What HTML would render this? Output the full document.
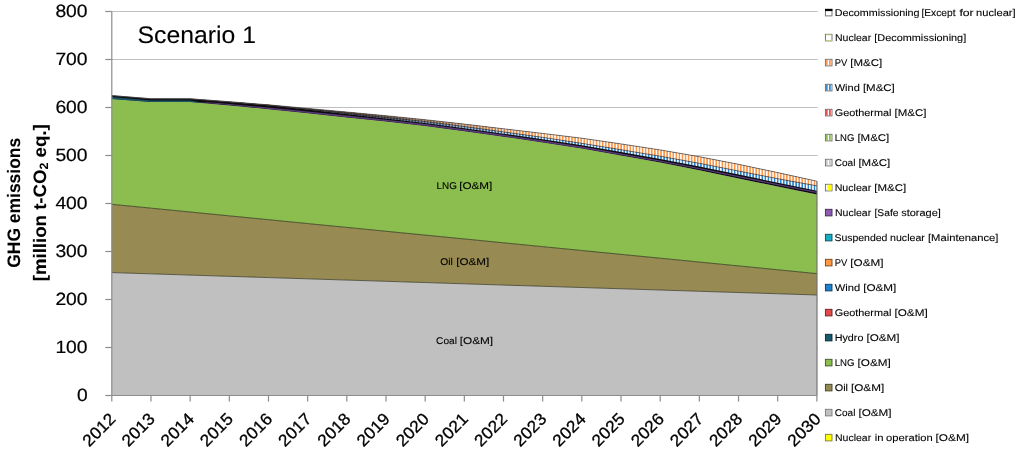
<!DOCTYPE html>
<html><head><meta charset="utf-8"><title>Scenario 1</title>
<style>html,body{margin:0;padding:0;background:#fff;}body{width:1024px;height:455px;position:relative;overflow:hidden;font-family:"Liberation Sans",sans-serif;}</style>
</head><body>
<svg width="1024" height="455" viewBox="0 0 1024 455" style="position:absolute;left:0;top:0;will-change:transform" font-family="Liberation Sans, sans-serif"><style>text{stroke:#000;stroke-width:0.1px;text-rendering:geometricPrecision}</style>
<defs>
<pattern id="pPV" x="1.75" width="3.07" height="8" patternUnits="userSpaceOnUse"><rect width="3.07" height="8" fill="#FC9648"/><rect x="0" width="1.45" height="8" fill="#fff"/></pattern>
<pattern id="pWind" x="1.75" width="3.07" height="8" patternUnits="userSpaceOnUse"><rect width="3.07" height="8" fill="#2E84CC"/><rect x="0" width="1.45" height="8" fill="#fff"/></pattern>
<linearGradient id="gDark" gradientUnits="userSpaceOnUse" x1="300" y1="0" x2="540" y2="0"><stop offset="0" stop-color="#0d0a10" stop-opacity="0.85"/><stop offset="0.25" stop-color="#0d0a10" stop-opacity="0.7"/><stop offset="0.55" stop-color="#0d0a10" stop-opacity="0.35"/><stop offset="1" stop-color="#0d0a10" stop-opacity="0"/></linearGradient>
</defs>
<line x1="111.8" y1="347.50" x2="817.6" y2="347.50" stroke="#BFBFBF" stroke-width="1"/>
<line x1="111.8" y1="299.50" x2="817.6" y2="299.50" stroke="#BFBFBF" stroke-width="1"/>
<line x1="111.8" y1="251.50" x2="817.6" y2="251.50" stroke="#BFBFBF" stroke-width="1"/>
<line x1="111.8" y1="203.50" x2="817.6" y2="203.50" stroke="#BFBFBF" stroke-width="1"/>
<line x1="111.8" y1="155.50" x2="817.6" y2="155.50" stroke="#BFBFBF" stroke-width="1"/>
<line x1="111.8" y1="107.50" x2="817.6" y2="107.50" stroke="#BFBFBF" stroke-width="1"/>
<line x1="111.8" y1="59.50" x2="817.6" y2="59.50" stroke="#BFBFBF" stroke-width="1"/>
<line x1="111.8" y1="11.50" x2="817.6" y2="11.50" stroke="#BFBFBF" stroke-width="1"/>
<polygon points="111.80,272.60 150.97,273.84 190.14,275.09 229.31,276.33 268.48,277.58 307.65,278.82 346.82,280.07 385.99,281.31 425.16,282.56 464.33,283.80 503.50,285.05 542.67,286.29 581.84,287.53 621.01,288.78 660.18,290.02 699.35,291.27 738.52,292.51 777.69,293.76 816.86,295.00 816.86,395.50 777.69,395.50 738.52,395.50 699.35,395.50 660.18,395.50 621.01,395.50 581.84,395.50 542.67,395.50 503.50,395.50 464.33,395.50 425.16,395.50 385.99,395.50 346.82,395.50 307.65,395.50 268.48,395.50 229.31,395.50 190.14,395.50 150.97,395.50 111.80,395.50" fill="#C0C0C0"/>
<polygon points="111.80,204.30 150.97,208.15 190.14,212.00 229.31,215.85 268.48,219.70 307.65,223.55 346.82,227.40 385.99,231.25 425.16,235.10 464.33,238.95 503.50,242.80 542.67,246.65 581.84,250.50 621.01,254.35 660.18,258.20 699.35,262.05 738.52,265.91 777.69,269.76 816.86,273.60 816.86,295.00 777.69,293.76 738.52,292.51 699.35,291.27 660.18,290.02 621.01,288.78 581.84,287.53 542.67,286.29 503.50,285.05 464.33,283.80 425.16,282.56 385.99,281.31 346.82,280.07 307.65,278.82 268.48,277.58 229.31,276.33 190.14,275.09 150.97,273.84 111.80,272.60" fill="#978A53"/>
<polygon points="111.80,99.00 150.97,101.90 190.14,101.90 229.31,105.40 268.48,109.20 307.65,113.30 346.82,117.50 385.99,121.60 425.16,126.00 464.33,131.20 503.50,136.70 542.67,142.50 581.84,148.60 621.01,155.40 660.18,162.50 699.35,170.20 738.52,178.40 777.69,186.60 816.86,194.40 816.86,273.60 777.69,269.76 738.52,265.91 699.35,262.05 660.18,258.20 621.01,254.35 581.84,250.50 542.67,246.65 503.50,242.80 464.33,238.95 425.16,235.10 385.99,231.25 346.82,227.40 307.65,223.55 268.48,219.70 229.31,215.85 190.14,212.00 150.97,208.15 111.80,204.30" fill="#8CBD4F"/>
<polygon points="111.80,95.60 150.97,98.75 190.14,98.80 229.31,101.70 268.48,104.80 307.65,108.40 346.82,112.00 385.99,115.70 425.16,119.70 464.33,124.10 503.50,128.80 542.67,133.40 581.84,138.20 621.01,143.90 660.18,149.90 699.35,156.70 738.52,164.30 777.69,172.60 816.86,181.20 816.86,194.40 777.69,186.60 738.52,178.40 699.35,170.20 660.18,162.50 621.01,155.40 581.84,148.60 542.67,142.50 503.50,136.70 464.33,131.20 425.16,126.00 385.99,121.60 346.82,117.50 307.65,113.30 268.48,109.20 229.31,105.40 190.14,101.90 150.97,101.90 111.80,99.00" fill="#0d0a10"/>
<polygon points="111.80,95.60 150.97,98.75 190.14,98.80 229.31,101.90 268.48,105.20 307.65,109.30 346.82,113.50 385.99,117.40 425.16,121.50 464.33,126.50 503.50,131.90 542.67,137.35 581.84,143.35 621.01,149.70 660.18,156.20 699.35,163.30 738.52,171.00 777.69,178.70 816.86,185.85 816.86,190.65 777.69,182.70 738.52,174.60 699.35,166.60 660.18,159.10 621.01,152.10 581.84,145.30 542.67,139.20 503.50,133.70 464.33,128.20 425.16,123.00 385.99,118.40 346.82,114.00 307.65,109.60 268.48,105.30 229.31,101.90 190.14,98.80 150.97,98.75 111.80,95.60" fill="url(#pWind)"/>
<polygon points="111.80,95.60 150.97,98.75 190.14,98.80 229.31,101.70 268.48,104.80 307.65,108.40 346.82,112.00 385.99,115.70 425.16,119.70 464.33,124.10 503.50,128.80 542.67,133.40 581.84,138.20 621.01,143.90 660.18,149.90 699.35,156.70 738.52,164.30 777.69,172.60 816.86,181.20 816.86,185.85 777.69,178.70 738.52,171.00 699.35,163.30 660.18,156.20 621.01,149.70 581.84,143.35 542.67,137.35 503.50,131.90 464.33,126.50 425.16,121.50 385.99,117.40 346.82,113.50 307.65,109.30 268.48,105.20 229.31,101.90 190.14,98.80 150.97,98.75 111.80,95.60" fill="url(#pPV)"/>
<polygon points="111.80,95.60 150.97,98.75 190.14,98.80 229.31,101.70 268.48,104.80 307.65,108.40 346.82,112.00 385.99,115.70 425.16,119.70 464.33,124.10 503.50,128.80 542.67,133.40 581.84,138.20 621.01,143.90 660.18,149.90 699.35,156.70 738.52,164.30 777.69,172.60 816.86,181.20 816.86,190.65 777.69,182.70 738.52,174.60 699.35,166.60 660.18,159.10 621.01,152.10 581.84,145.30 542.67,139.20 503.50,133.70 464.33,128.20 425.16,123.00 385.99,118.40 346.82,114.00 307.65,109.60 268.48,105.30 229.31,101.90 190.14,98.80 150.97,98.75 111.80,95.60" fill="url(#gDark)"/>
<polygon points="111.80,96.90 151.00,100.45 190.10,100.45 206.00,103.32 206.00,103.32 190.10,101.90 151.00,101.90 111.80,99.00" fill="#1A5566"/>
<polygon points="198.00,102.30 212.00,102.55 229.31,104.10 268.48,107.60 307.65,111.50 346.82,115.60 385.99,119.70 425.16,124.10 464.33,129.30 503.50,134.80 542.67,140.60 581.84,146.60 621.01,153.40 660.18,160.45 699.35,168.00 738.52,175.90 777.69,183.90 816.86,191.75 816.86,193.05 777.69,185.20 738.52,177.20 699.35,169.30 660.18,161.85 621.01,154.90 581.84,148.20 542.67,142.20 503.50,136.40 464.33,130.90 425.16,125.70 385.99,121.30 346.82,117.20 307.65,113.00 268.48,108.90 229.31,105.10 212.00,103.55 198.00,102.30" fill="#573A74"/>
<polyline points="111.80,272.60 150.97,273.84 190.14,275.09 229.31,276.33 268.48,277.58 307.65,278.82 346.82,280.07 385.99,281.31 425.16,282.56 464.33,283.80 503.50,285.05 542.67,286.29 581.84,287.53 621.01,288.78 660.18,290.02 699.35,291.27 738.52,292.51 777.69,293.76 816.86,295.00" fill="none" stroke="#3a3a2a" stroke-width="0.75"/>
<polyline points="111.80,204.30 150.97,208.15 190.14,212.00 229.31,215.85 268.48,219.70 307.65,223.55 346.82,227.40 385.99,231.25 425.16,235.10 464.33,238.95 503.50,242.80 542.67,246.65 581.84,250.50 621.01,254.35 660.18,258.20 699.35,262.05 738.52,265.91 777.69,269.76 816.86,273.60" fill="none" stroke="#2c3318" stroke-width="0.75"/>
<polyline points="111.80,95.60 150.97,98.75 190.14,98.80 229.31,101.70 268.48,104.80 307.65,108.40 346.82,112.00 385.99,115.70 425.16,119.70 464.33,124.10 503.50,128.80 542.67,133.40 581.84,138.20 621.01,143.90 660.18,149.90 699.35,156.70 738.52,164.30 777.69,172.60 816.86,181.20" fill="none" stroke="#444" stroke-width="0.65"/>
<polyline points="111.80,95.60 150.97,98.75 190.14,98.80 229.31,101.90 268.48,105.20 307.65,109.30 346.82,113.50 385.99,117.40 425.16,121.50 464.33,126.50 503.50,131.90 542.67,137.35 581.84,143.35 621.01,149.70 660.18,156.20 699.35,163.30 738.52,171.00 777.69,178.70 816.86,185.85" fill="none" stroke="#333" stroke-width="0.6"/>
<line x1="111.8" y1="11.50" x2="111.8" y2="395.50" stroke="#8C8C8C" stroke-width="1.2"/>
<line x1="111.8" y1="395.50" x2="816.9" y2="395.50" stroke="#8C8C8C" stroke-width="1.2"/>
<line x1="817.0" y1="181.20" x2="817.0" y2="395.50" stroke="#5c5c5c" stroke-width="1"/>
<line x1="105.3" y1="395.50" x2="111.8" y2="395.50" stroke="#8C8C8C" stroke-width="1.2"/>
<text x="87.6" y="401.00" font-size="17.8" text-anchor="end" fill="#000" style="stroke-width:0.2px" textLength="10.7" lengthAdjust="spacingAndGlyphs">0</text>
<line x1="105.3" y1="347.50" x2="111.8" y2="347.50" stroke="#8C8C8C" stroke-width="1.2"/>
<text x="87.6" y="353.00" font-size="17.8" text-anchor="end" fill="#000" style="stroke-width:0.2px" textLength="32.2" lengthAdjust="spacingAndGlyphs">100</text>
<line x1="105.3" y1="299.50" x2="111.8" y2="299.50" stroke="#8C8C8C" stroke-width="1.2"/>
<text x="87.6" y="305.00" font-size="17.8" text-anchor="end" fill="#000" style="stroke-width:0.2px" textLength="32.2" lengthAdjust="spacingAndGlyphs">200</text>
<line x1="105.3" y1="251.50" x2="111.8" y2="251.50" stroke="#8C8C8C" stroke-width="1.2"/>
<text x="87.6" y="257.00" font-size="17.8" text-anchor="end" fill="#000" style="stroke-width:0.2px" textLength="32.2" lengthAdjust="spacingAndGlyphs">300</text>
<line x1="105.3" y1="203.50" x2="111.8" y2="203.50" stroke="#8C8C8C" stroke-width="1.2"/>
<text x="87.6" y="209.00" font-size="17.8" text-anchor="end" fill="#000" style="stroke-width:0.2px" textLength="32.2" lengthAdjust="spacingAndGlyphs">400</text>
<line x1="105.3" y1="155.50" x2="111.8" y2="155.50" stroke="#8C8C8C" stroke-width="1.2"/>
<text x="87.6" y="161.00" font-size="17.8" text-anchor="end" fill="#000" style="stroke-width:0.2px" textLength="32.2" lengthAdjust="spacingAndGlyphs">500</text>
<line x1="105.3" y1="107.50" x2="111.8" y2="107.50" stroke="#8C8C8C" stroke-width="1.2"/>
<text x="87.6" y="113.00" font-size="17.8" text-anchor="end" fill="#000" style="stroke-width:0.2px" textLength="32.2" lengthAdjust="spacingAndGlyphs">600</text>
<line x1="105.3" y1="59.50" x2="111.8" y2="59.50" stroke="#8C8C8C" stroke-width="1.2"/>
<text x="87.6" y="65.00" font-size="17.8" text-anchor="end" fill="#000" style="stroke-width:0.2px" textLength="32.2" lengthAdjust="spacingAndGlyphs">700</text>
<line x1="105.3" y1="11.50" x2="111.8" y2="11.50" stroke="#8C8C8C" stroke-width="1.2"/>
<text x="87.6" y="17.00" font-size="17.8" text-anchor="end" fill="#000" style="stroke-width:0.2px" textLength="32.2" lengthAdjust="spacingAndGlyphs">800</text>
<line x1="111.80" y1="395.50" x2="111.80" y2="401.60" stroke="#8C8C8C" stroke-width="1.2"/>
<text transform="translate(116.70,420.00) rotate(-45)" font-size="16.7" text-anchor="end" fill="#000" style="stroke-width:0.3px" textLength="38.8" lengthAdjust="spacingAndGlyphs">2012</text>
<line x1="150.97" y1="395.50" x2="150.97" y2="401.60" stroke="#8C8C8C" stroke-width="1.2"/>
<text transform="translate(155.87,420.00) rotate(-45)" font-size="16.7" text-anchor="end" fill="#000" style="stroke-width:0.3px" textLength="38.8" lengthAdjust="spacingAndGlyphs">2013</text>
<line x1="190.14" y1="395.50" x2="190.14" y2="401.60" stroke="#8C8C8C" stroke-width="1.2"/>
<text transform="translate(195.04,420.00) rotate(-45)" font-size="16.7" text-anchor="end" fill="#000" style="stroke-width:0.3px" textLength="38.8" lengthAdjust="spacingAndGlyphs">2014</text>
<line x1="229.31" y1="395.50" x2="229.31" y2="401.60" stroke="#8C8C8C" stroke-width="1.2"/>
<text transform="translate(234.21,420.00) rotate(-45)" font-size="16.7" text-anchor="end" fill="#000" style="stroke-width:0.3px" textLength="38.8" lengthAdjust="spacingAndGlyphs">2015</text>
<line x1="268.48" y1="395.50" x2="268.48" y2="401.60" stroke="#8C8C8C" stroke-width="1.2"/>
<text transform="translate(273.38,420.00) rotate(-45)" font-size="16.7" text-anchor="end" fill="#000" style="stroke-width:0.3px" textLength="38.8" lengthAdjust="spacingAndGlyphs">2016</text>
<line x1="307.65" y1="395.50" x2="307.65" y2="401.60" stroke="#8C8C8C" stroke-width="1.2"/>
<text transform="translate(312.55,420.00) rotate(-45)" font-size="16.7" text-anchor="end" fill="#000" style="stroke-width:0.3px" textLength="38.8" lengthAdjust="spacingAndGlyphs">2017</text>
<line x1="346.82" y1="395.50" x2="346.82" y2="401.60" stroke="#8C8C8C" stroke-width="1.2"/>
<text transform="translate(351.72,420.00) rotate(-45)" font-size="16.7" text-anchor="end" fill="#000" style="stroke-width:0.3px" textLength="38.8" lengthAdjust="spacingAndGlyphs">2018</text>
<line x1="385.99" y1="395.50" x2="385.99" y2="401.60" stroke="#8C8C8C" stroke-width="1.2"/>
<text transform="translate(390.89,420.00) rotate(-45)" font-size="16.7" text-anchor="end" fill="#000" style="stroke-width:0.3px" textLength="38.8" lengthAdjust="spacingAndGlyphs">2019</text>
<line x1="425.16" y1="395.50" x2="425.16" y2="401.60" stroke="#8C8C8C" stroke-width="1.2"/>
<text transform="translate(430.06,420.00) rotate(-45)" font-size="16.7" text-anchor="end" fill="#000" style="stroke-width:0.3px" textLength="38.8" lengthAdjust="spacingAndGlyphs">2020</text>
<line x1="464.33" y1="395.50" x2="464.33" y2="401.60" stroke="#8C8C8C" stroke-width="1.2"/>
<text transform="translate(469.23,420.00) rotate(-45)" font-size="16.7" text-anchor="end" fill="#000" style="stroke-width:0.3px" textLength="38.8" lengthAdjust="spacingAndGlyphs">2021</text>
<line x1="503.50" y1="395.50" x2="503.50" y2="401.60" stroke="#8C8C8C" stroke-width="1.2"/>
<text transform="translate(508.40,420.00) rotate(-45)" font-size="16.7" text-anchor="end" fill="#000" style="stroke-width:0.3px" textLength="38.8" lengthAdjust="spacingAndGlyphs">2022</text>
<line x1="542.67" y1="395.50" x2="542.67" y2="401.60" stroke="#8C8C8C" stroke-width="1.2"/>
<text transform="translate(547.57,420.00) rotate(-45)" font-size="16.7" text-anchor="end" fill="#000" style="stroke-width:0.3px" textLength="38.8" lengthAdjust="spacingAndGlyphs">2023</text>
<line x1="581.84" y1="395.50" x2="581.84" y2="401.60" stroke="#8C8C8C" stroke-width="1.2"/>
<text transform="translate(586.74,420.00) rotate(-45)" font-size="16.7" text-anchor="end" fill="#000" style="stroke-width:0.3px" textLength="38.8" lengthAdjust="spacingAndGlyphs">2024</text>
<line x1="621.01" y1="395.50" x2="621.01" y2="401.60" stroke="#8C8C8C" stroke-width="1.2"/>
<text transform="translate(625.91,420.00) rotate(-45)" font-size="16.7" text-anchor="end" fill="#000" style="stroke-width:0.3px" textLength="38.8" lengthAdjust="spacingAndGlyphs">2025</text>
<line x1="660.18" y1="395.50" x2="660.18" y2="401.60" stroke="#8C8C8C" stroke-width="1.2"/>
<text transform="translate(665.08,420.00) rotate(-45)" font-size="16.7" text-anchor="end" fill="#000" style="stroke-width:0.3px" textLength="38.8" lengthAdjust="spacingAndGlyphs">2026</text>
<line x1="699.35" y1="395.50" x2="699.35" y2="401.60" stroke="#8C8C8C" stroke-width="1.2"/>
<text transform="translate(704.25,420.00) rotate(-45)" font-size="16.7" text-anchor="end" fill="#000" style="stroke-width:0.3px" textLength="38.8" lengthAdjust="spacingAndGlyphs">2027</text>
<line x1="738.52" y1="395.50" x2="738.52" y2="401.60" stroke="#8C8C8C" stroke-width="1.2"/>
<text transform="translate(743.42,420.00) rotate(-45)" font-size="16.7" text-anchor="end" fill="#000" style="stroke-width:0.3px" textLength="38.8" lengthAdjust="spacingAndGlyphs">2028</text>
<line x1="777.69" y1="395.50" x2="777.69" y2="401.60" stroke="#8C8C8C" stroke-width="1.2"/>
<text transform="translate(782.59,420.00) rotate(-45)" font-size="16.7" text-anchor="end" fill="#000" style="stroke-width:0.3px" textLength="38.8" lengthAdjust="spacingAndGlyphs">2029</text>
<line x1="816.86" y1="395.50" x2="816.86" y2="401.60" stroke="#8C8C8C" stroke-width="1.2"/>
<text transform="translate(821.76,420.00) rotate(-45)" font-size="16.7" text-anchor="end" fill="#000" style="stroke-width:0.3px" textLength="38.8" lengthAdjust="spacingAndGlyphs">2030</text>
<text x="137.6" y="43" font-size="24" fill="#000" textLength="118.4" lengthAdjust="spacingAndGlyphs">Scenario 1</text>
<text x="436.60" y="188.90" font-size="9.8" fill="#000" textLength="20.30" lengthAdjust="spacingAndGlyphs">LNG</text>
<text x="459.20" y="188.90" font-size="9.8" fill="#000" textLength="33.10" lengthAdjust="spacingAndGlyphs">[O&amp;M]</text>
<text x="440.20" y="265.40" font-size="9.8" fill="#000" textLength="12.60" lengthAdjust="spacingAndGlyphs">Oil</text>
<text x="456.30" y="265.40" font-size="9.8" fill="#000" textLength="32.90" lengthAdjust="spacingAndGlyphs">[O&amp;M]</text>
<text x="436.10" y="343.50" font-size="9.8" fill="#000" textLength="20.80" lengthAdjust="spacingAndGlyphs">Coal</text>
<text x="459.70" y="343.50" font-size="9.8" fill="#000" textLength="33.40" lengthAdjust="spacingAndGlyphs">[O&amp;M]</text>
<text transform="translate(20.4,202.8) rotate(-90)" font-size="18" font-weight="bold" text-anchor="middle" fill="#000" textLength="130" lengthAdjust="spacingAndGlyphs">GHG emissions</text>
<text transform="translate(46.2,202.8) rotate(-90)" font-size="18" font-weight="bold" text-anchor="middle" fill="#000" textLength="157" lengthAdjust="spacingAndGlyphs">[million t-CO<tspan font-size="12" dy="1.5">2</tspan><tspan dy="-1.5"> eq.]</tspan></text>
<rect x="825.4" y="9.3" width="6.6" height="6.6" fill="#fff" stroke="#686868" stroke-width="0.9"/>
<rect x="825.0" y="8.9" width="7.4" height="2.2" fill="#000"/>
<text x="834.70" y="16.00" font-size="9.8" fill="#000" textLength="84.80" lengthAdjust="spacingAndGlyphs">Decommissioning</text>
<text x="921.40" y="16.00" font-size="9.8" fill="#000" textLength="34.10" lengthAdjust="spacingAndGlyphs">[Except</text>
<text x="959.40" y="16.00" font-size="9.8" fill="#000" textLength="14.30" lengthAdjust="spacingAndGlyphs">for</text>
<text x="976.10" y="16.00" font-size="9.8" fill="#000" textLength="39.50" lengthAdjust="spacingAndGlyphs">nuclear]</text>
<rect x="825.4" y="34.3" width="6.6" height="6.6" fill="#fff" stroke="#686868" stroke-width="0.9"/>
<rect x="825.4" y="40.3" width="6.6" height="0.9" fill="#d8d880"/>
<rect x="825.8" y="34.6" width="5.8" height="0.8" fill="#e0e098"/>
<text x="835.00" y="41.00" font-size="9.8" fill="#000" textLength="36.20" lengthAdjust="spacingAndGlyphs">Nuclear</text>
<text x="874.30" y="41.00" font-size="9.8" fill="#000" textLength="91.90" lengthAdjust="spacingAndGlyphs">[Decommissioning]</text>
<rect x="825.4" y="59.3" width="6.6" height="6.6" fill="#fff" stroke="#686868" stroke-width="0.9"/>
<rect x="825.9" y="59.7" width="1.8" height="5.8" fill="#FB9A55"/>
<rect x="829.0" y="59.7" width="1.8" height="5.8" fill="#FB9A55"/>
<text x="834.70" y="66.00" font-size="9.8" fill="#000" textLength="12.60" lengthAdjust="spacingAndGlyphs">PV</text>
<text x="850.30" y="66.00" font-size="9.8" fill="#000" textLength="31.90" lengthAdjust="spacingAndGlyphs">[M&amp;C]</text>
<rect x="825.4" y="84.3" width="6.6" height="6.6" fill="#fff" stroke="#686868" stroke-width="0.9"/>
<rect x="825.9" y="84.7" width="1.8" height="5.8" fill="#3A8CD0"/>
<rect x="829.0" y="84.7" width="1.8" height="5.8" fill="#3A8CD0"/>
<text x="834.70" y="91.00" font-size="9.8" fill="#000" textLength="25.20" lengthAdjust="spacingAndGlyphs">Wind</text>
<text x="862.90" y="91.00" font-size="9.8" fill="#000" textLength="31.90" lengthAdjust="spacingAndGlyphs">[M&amp;C]</text>
<rect x="825.4" y="109.3" width="6.6" height="6.6" fill="#fff" stroke="#686868" stroke-width="0.9"/>
<rect x="825.9" y="109.7" width="1.8" height="5.8" fill="#E8524F"/>
<rect x="829.0" y="109.7" width="1.8" height="5.8" fill="#E8524F"/>
<text x="834.70" y="116.00" font-size="9.8" fill="#000" textLength="56.80" lengthAdjust="spacingAndGlyphs">Geothermal</text>
<text x="894.50" y="116.00" font-size="9.8" fill="#000" textLength="31.90" lengthAdjust="spacingAndGlyphs">[M&amp;C]</text>
<rect x="825.4" y="134.3" width="6.6" height="6.6" fill="#fff" stroke="#686868" stroke-width="0.9"/>
<rect x="825.9" y="134.7" width="1.8" height="5.8" fill="#8CBD4F"/>
<rect x="829.0" y="134.7" width="1.8" height="5.8" fill="#8CBD4F"/>
<text x="834.70" y="141.00" font-size="9.8" fill="#000" textLength="19.70" lengthAdjust="spacingAndGlyphs">LNG</text>
<text x="857.40" y="141.00" font-size="9.8" fill="#000" textLength="31.90" lengthAdjust="spacingAndGlyphs">[M&amp;C]</text>
<rect x="825.4" y="159.3" width="6.6" height="6.6" fill="#fff" stroke="#686868" stroke-width="0.9"/>
<rect x="825.9" y="159.7" width="1.8" height="5.8" fill="#C8C8C8"/>
<rect x="829.0" y="159.7" width="1.8" height="5.8" fill="#C8C8C8"/>
<text x="834.70" y="166.00" font-size="9.8" fill="#000" textLength="20.70" lengthAdjust="spacingAndGlyphs">Coal</text>
<text x="858.40" y="166.00" font-size="9.8" fill="#000" textLength="31.90" lengthAdjust="spacingAndGlyphs">[M&amp;C]</text>
<rect x="825.4" y="184.3" width="6.6" height="6.6" fill="#fff" stroke="#686868" stroke-width="0.9"/>
<rect x="827.4" y="184.7" width="4.2" height="5.8" fill="#FFFF00"/>
<text x="834.70" y="191.00" font-size="9.8" fill="#000" textLength="36.60" lengthAdjust="spacingAndGlyphs">Nuclear</text>
<text x="874.30" y="191.00" font-size="9.8" fill="#000" textLength="31.90" lengthAdjust="spacingAndGlyphs">[M&amp;C]</text>
<rect x="825.4" y="209.3" width="6.6" height="6.6" fill="#8E5BB0" stroke="#3f284f" stroke-width="0.9"/>
<text x="835.00" y="216.00" font-size="9.8" fill="#000" textLength="36.20" lengthAdjust="spacingAndGlyphs">Nuclear</text>
<text x="874.50" y="216.00" font-size="9.8" fill="#000" textLength="24.00" lengthAdjust="spacingAndGlyphs">[Safe</text>
<text x="901.20" y="216.00" font-size="9.8" fill="#000" textLength="39.70" lengthAdjust="spacingAndGlyphs">storage]</text>
<rect x="825.4" y="234.3" width="6.6" height="6.6" fill="#19ABC4" stroke="#0b4c58" stroke-width="0.9"/>
<text x="834.40" y="241.00" font-size="9.8" fill="#000" textLength="53.00" lengthAdjust="spacingAndGlyphs">Suspended</text>
<text x="890.10" y="241.00" font-size="9.8" fill="#000" textLength="34.70" lengthAdjust="spacingAndGlyphs">nuclear</text>
<text x="928.00" y="241.00" font-size="9.8" fill="#000" textLength="70.40" lengthAdjust="spacingAndGlyphs">[Maintenance]</text>
<rect x="825.4" y="259.3" width="6.6" height="6.6" fill="#FF9840" stroke="#72441c" stroke-width="0.9"/>
<text x="834.70" y="266.00" font-size="9.8" fill="#000" textLength="12.60" lengthAdjust="spacingAndGlyphs">PV</text>
<text x="850.30" y="266.00" font-size="9.8" fill="#000" textLength="33.20" lengthAdjust="spacingAndGlyphs">[O&amp;M]</text>
<rect x="825.4" y="284.3" width="6.6" height="6.6" fill="#1F80CC" stroke="#0d395b" stroke-width="0.9"/>
<text x="834.70" y="291.00" font-size="9.8" fill="#000" textLength="25.50" lengthAdjust="spacingAndGlyphs">Wind</text>
<text x="863.20" y="291.00" font-size="9.8" fill="#000" textLength="33.20" lengthAdjust="spacingAndGlyphs">[O&amp;M]</text>
<rect x="825.4" y="309.3" width="6.6" height="6.6" fill="#E24A4A" stroke="#652121" stroke-width="0.9"/>
<text x="834.70" y="316.00" font-size="9.8" fill="#000" textLength="56.80" lengthAdjust="spacingAndGlyphs">Geothermal</text>
<text x="894.50" y="316.00" font-size="9.8" fill="#000" textLength="33.20" lengthAdjust="spacingAndGlyphs">[O&amp;M]</text>
<rect x="825.4" y="334.3" width="6.6" height="6.6" fill="#155A6D" stroke="#092831" stroke-width="0.9"/>
<text x="834.70" y="341.00" font-size="9.8" fill="#000" textLength="28.70" lengthAdjust="spacingAndGlyphs">Hydro</text>
<text x="866.40" y="341.00" font-size="9.8" fill="#000" textLength="33.20" lengthAdjust="spacingAndGlyphs">[O&amp;M]</text>
<rect x="825.4" y="359.3" width="6.6" height="6.6" fill="#8CBD4F" stroke="#3f5523" stroke-width="0.9"/>
<text x="834.70" y="366.00" font-size="9.8" fill="#000" textLength="19.90" lengthAdjust="spacingAndGlyphs">LNG</text>
<text x="857.60" y="366.00" font-size="9.8" fill="#000" textLength="33.20" lengthAdjust="spacingAndGlyphs">[O&amp;M]</text>
<rect x="825.4" y="384.3" width="6.6" height="6.6" fill="#948A54" stroke="#423e25" stroke-width="0.9"/>
<text x="834.70" y="391.00" font-size="9.8" fill="#000" textLength="13.30" lengthAdjust="spacingAndGlyphs">Oil</text>
<text x="851.00" y="391.00" font-size="9.8" fill="#000" textLength="33.20" lengthAdjust="spacingAndGlyphs">[O&amp;M]</text>
<rect x="825.4" y="409.3" width="6.6" height="6.6" fill="#C0C0C0" stroke="#7a7a7a" stroke-width="0.9"/>
<text x="834.70" y="416.00" font-size="9.8" fill="#000" textLength="20.70" lengthAdjust="spacingAndGlyphs">Coal</text>
<text x="858.40" y="416.00" font-size="9.8" fill="#000" textLength="33.20" lengthAdjust="spacingAndGlyphs">[O&amp;M]</text>
<rect x="825.4" y="434.3" width="6.6" height="6.6" fill="#FFFF00" stroke="#7d7d3a" stroke-width="0.9"/>
<text x="835.00" y="441.00" font-size="9.8" fill="#000" textLength="36.20" lengthAdjust="spacingAndGlyphs">Nuclear</text>
<text x="874.70" y="441.00" font-size="9.8" fill="#000" textLength="8.80" lengthAdjust="spacingAndGlyphs">in</text>
<text x="886.10" y="441.00" font-size="9.8" fill="#000" textLength="46.60" lengthAdjust="spacingAndGlyphs">operation</text>
<text x="935.60" y="441.00" font-size="9.8" fill="#000" textLength="33.40" lengthAdjust="spacingAndGlyphs">[O&amp;M]</text>
</svg>
</body></html>
